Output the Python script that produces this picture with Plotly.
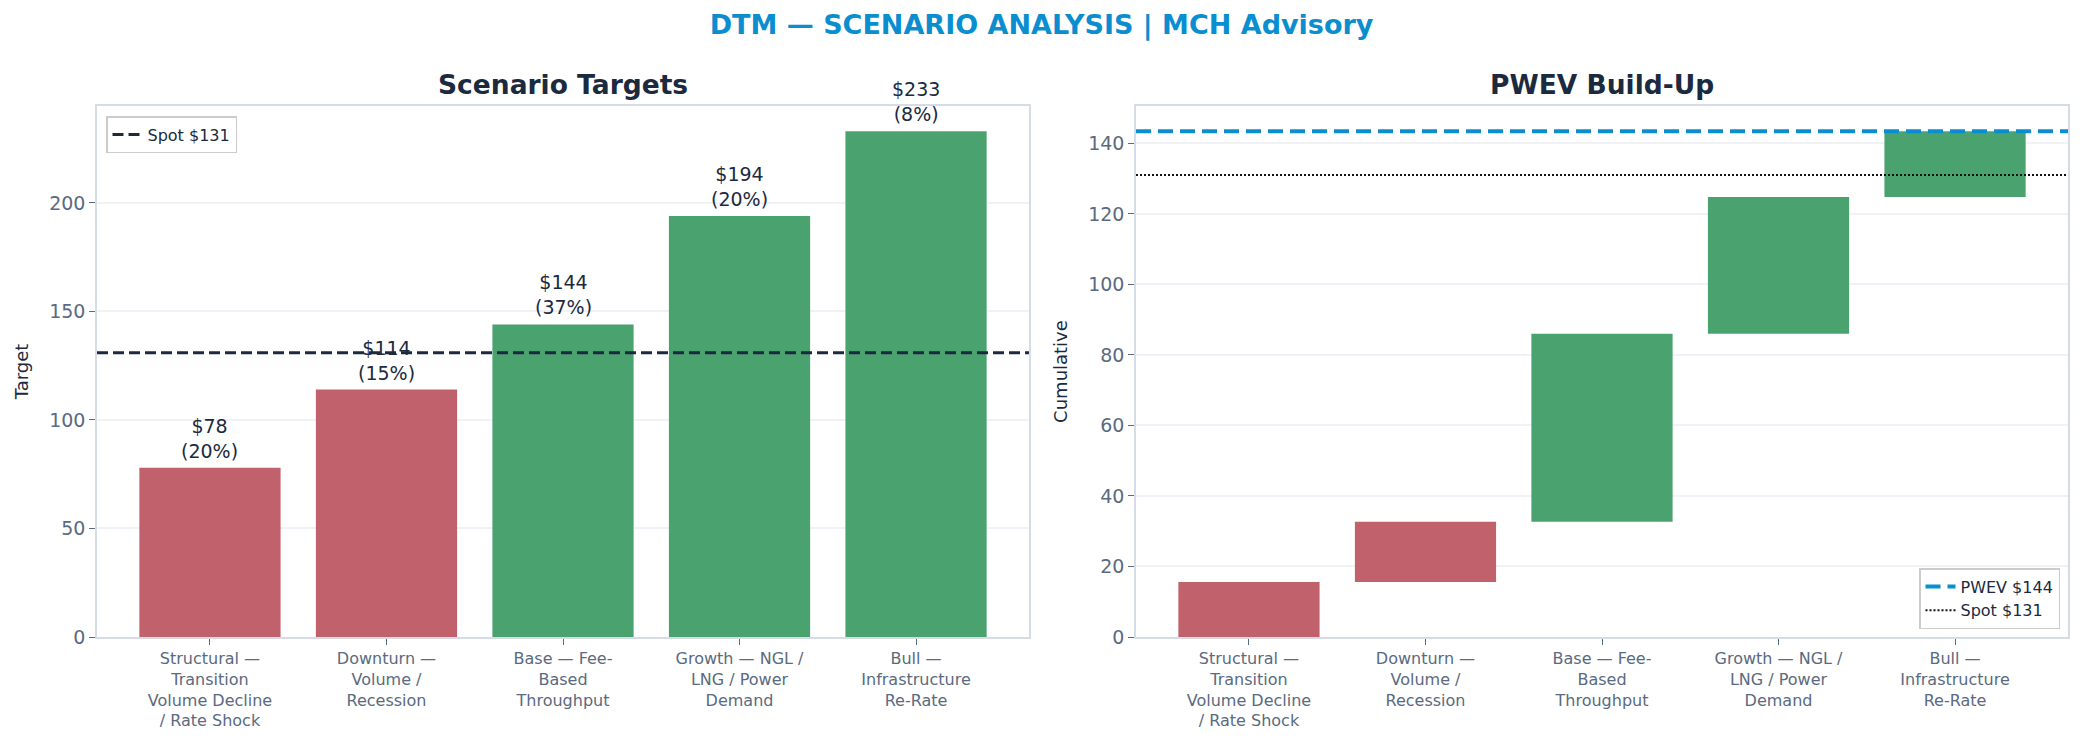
"""DTM scenario analysis: scenario targets and PWEV build-up."""

import plotly.graph_objects as go

scenarios = [
    "Structural —<br>Transition<br>Volume Decline<br>/ Rate Shock",
    "Downturn —<br>Volume /<br>Recession",
    "Base — Fee-<br>Based<br>Throughput",
    "Growth — NGL /<br>LNG / Power<br>Demand",
    "Bull —<br>Infrastructure<br>Re-Rate",
]
targets = [78, 114, 144, 194, 233]
probs = [0.20, 0.15, 0.37, 0.20, 0.08]
spot = 131
pwev_label = "PWEV $144"
spot_label = "Spot $131"

RED = "#C0616B"
GREEN = "#4AA36F"
BLUE = "#0A8ED0"
NAVY = "#1B2A3E"
GREY = "#5A6A80"
SPINE = "#D5DCE6"
FONT = "DejaVu Sans"

# page geometry in screen pixels; the html body adds an 8px offset
OFF = 8
W, H = 2083, 742
FW, FH = W - OFF, H - OFF
ML, MR, MT, MB = 97 - OFF, 15, 106 - OFF, 105
PW = FW - ML - MR
PH = FH - MT - MB


def px(x):
    return (x - OFF - ML) / PW


def py(y):
    return (FH - MB - (y - OFF)) / PH


colors = [RED if t < spot else GREEN for t in targets]
contrib = [t * p for t, p in zip(targets, probs)]
bases = []
running = 0.0
for c in contrib:
    bases.append(running)
    running += c
pwev = running

fig = go.Figure()

fig.add_trace(
    go.Bar(
        x=scenarios, y=targets, width=0.8, marker=dict(color=colors, line=dict(width=0)),
        xaxis="x", yaxis="y", showlegend=False, hoverinfo="skip",
    )
)
fig.add_trace(
    go.Bar(
        x=scenarios, y=contrib, base=bases, width=0.8,
        marker=dict(color=colors, line=dict(width=0)),
        xaxis="x2", yaxis="y2", showlegend=False, hoverinfo="skip",
    )
)

# legend-only entries for the reference lines
fig.add_trace(go.Scatter(x=[None], y=[None], mode="lines", name=spot_label,
                         line=dict(color=NAVY, width=3, dash="11px,5px"),
                         xaxis="x", yaxis="y", legend="legend"))
fig.add_trace(go.Scatter(x=[None], y=[None], mode="lines", name=pwev_label,
                         line=dict(color=BLUE, width=4, dash="15px,7px"),
                         xaxis="x2", yaxis="y2", legend="legend2"))
fig.add_trace(go.Scatter(x=[None], y=[None], mode="lines", name=spot_label,
                         line=dict(color="#111111", width=2, dash="2px,2px"),
                         xaxis="x2", yaxis="y2", legend="legend2"))

fig.add_shape(type="line", xref="x domain", yref="y", x0=0, x1=1, y0=spot, y1=spot,
              line=dict(color=NAVY, width=3, dash="11px,5px"))
fig.add_shape(type="line", xref="x2 domain", yref="y2", x0=0, x1=1, y0=pwev, y1=pwev,
              line=dict(color=BLUE, width=4, dash="15px,7px"))
fig.add_shape(type="line", xref="x2 domain", yref="y2", x0=0, x1=1, y0=spot, y1=spot,
              line=dict(color="#111111", width=2, dash="2px,2px"))

for s, t, p in zip(scenarios, targets, probs):
    fig.add_annotation(x=s, y=t, xref="x", yref="y", text=f"${t}<br>({p:.0%})",
                       showarrow=False, yanchor="bottom", yshift=4,
                       font=dict(size=19, color=NAVY))

for txt, cx in [("Scenario Targets", 563), ("PWEV Build-Up", 1602)]:
    fig.add_annotation(x=px(cx), y=py(84), xref="paper", yref="paper", text=f"<b>{txt}</b>",
                       showarrow=False, xanchor="center", yanchor="middle",
                       font=dict(size=26.5, color=NAVY))

xcommon = dict(
    type="category", range=[-0.64, 4.64], showgrid=False, zeroline=False,
    showline=True, linecolor=SPINE, linewidth=1.5, mirror=True,
    ticks="outside", ticklen=6, tickcolor=GREY, tickfont=dict(size=16, color=GREY),
)
ycommon = dict(
    showgrid=True, gridcolor="rgba(226,232,240,0.55)", gridwidth=1.5, zeroline=False,
    showline=True, linecolor=SPINE, linewidth=1.5, mirror=True, layer="above traces",
    ticks="outside", ticklen=6, tickcolor=GREY, tickfont=dict(size=19, color=GREY),
)
legcommon = dict(bgcolor="white", bordercolor="#CCCCCC", borderwidth=1.5, itemwidth=30,
                 font=dict(size=16, color=NAVY))

fig.update_layout(
    width=FW, height=FH,
    margin=dict(l=ML, r=MR, t=MT, b=MB, autoexpand=False),
    paper_bgcolor="white", plot_bgcolor="white",
    font=dict(family=FONT, color=NAVY),
    bargap=0.2,
    title=dict(text="<b>DTM — SCENARIO ANALYSIS | MCH Advisory</b>",
               x=(W / 2 - OFF) / FW, xref="container",
               y=1 - (25 - OFF) / FH, yref="container", xanchor="center", yanchor="middle",
               font=dict(size=27, color=BLUE)),
    xaxis=dict(domain=[0, px(1029)], anchor="y", **xcommon),
    yaxis=dict(domain=[0, 1], anchor="x", range=[0, max(targets) * 1.05], dtick=50,
               title=dict(text="Target", font=dict(size=18, color=NAVY), standoff=16), **ycommon),
    xaxis2=dict(domain=[px(1136), 1], anchor="y2", **xcommon),
    yaxis2=dict(domain=[0, 1], anchor="x2", range=[0, pwev * 1.05], dtick=20,
                title=dict(text="Cumulative", font=dict(size=18, color=NAVY), standoff=16), **ycommon),
    legend=dict(x=px(106), y=py(116), xanchor="left", yanchor="top", **legcommon),
    legend2=dict(x=px(2060), y=py(629), xanchor="right", yanchor="bottom", **legcommon),
)

fig.write_html("out.html")
